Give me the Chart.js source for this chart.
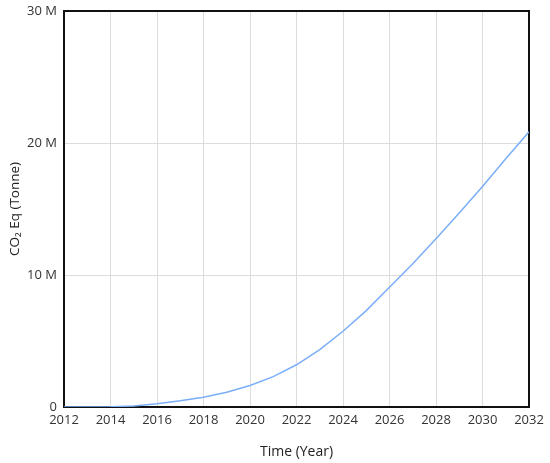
<!DOCTYPE html>
<html>
<head>
<meta charset="utf-8">
<script src="https://cdn.jsdelivr.net/npm/chart.js@4.4.0/dist/chart.umd.min.js"></script>
<style>
  html, body { margin: 0; padding: 0; background: #fff; }
  #wrap { width: 550px; height: 463px; }
</style>
</head>
<body>
<div id="wrap"><canvas id="line-chart"></canvas></div>
<script>
// years and emissions (tonnes CO2 eq)
var years = [2012, 2013, 2014, 2015, 2016, 2017, 2018, 2019, 2020, 2021, 2022,
             2023, 2024, 2025, 2026, 2027, 2028, 2029, 2030, 2031, 2032];
var co2 = [0, 0, 0.02e6, 0.08e6, 0.24e6, 0.47e6, 0.74e6, 1.12e6, 1.63e6, 2.3e6, 3.2e6,
           4.35e6, 5.74e6, 7.3e6, 9.07e6, 10.85e6, 12.75e6, 14.7e6, 16.7e6, 18.8e6, 20.85e6];
var yTicks = [0, 10e6, 20e6, 30e6];

// border round the plot area (under the line, so the zero run stays blue)
var frame = {
  id: 'frame',
  beforeDatasetsDraw: function(c) {
    var a = c.chartArea, ctx = c.ctx;
    ctx.save();
    ctx.strokeStyle = '#111';
    ctx.lineWidth = 2;
    ctx.strokeRect(a.left, a.top, a.right - a.left, a.bottom - a.top);
    ctx.restore();
  }
};

var points = [];
for (var i = 0; i < years.length; i++) {
  points.push({ x: years[i], y: co2[i] });
}

Chart.defaults.font.family = "'Open Sans', sans-serif";

var chart = new Chart(document.getElementById('line-chart'), {
  type: 'line',
  data: {
    datasets: [{
      data: points,
      borderColor: '#7aaef7',
      borderWidth: 1.5,
      pointRadius: 0,
      tension: 0,
      fill: false
    }]
  },
  options: {
    responsive: true,
    maintainAspectRatio: false,
    animation: false,
    layout: { padding: { top: 11, right: 21, left: 0, bottom: 0 } },
    plugins: { legend: { display: false }, tooltip: { enabled: false } },
    scales: {
      x: {
        type: 'linear',
        min: 2012,
        max: 2032,
        afterFit: function(s) { s.height = 56; s.paddingLeft = 0; s.paddingRight = 0; },
        grid: { color: '#dcdcdc', drawTicks: false },
        border: { display: false },
        ticks: {
          stepSize: 2,
          padding: 5,
          color: '#333',
          font: { size: 13 },
          maxRotation: 0,
          callback: function(v) { return String(v); }
        },
        title: {
          display: true,
          text: 'Time (Year)',
          color: '#222',
          font: { size: 14 },
          padding: { top: 12, bottom: 3 }
        }
      },
      y: {
        min: 0,
        max: 30e6,
        afterFit: function(s) { s.width = 64; s.paddingTop = 0; s.paddingBottom = 0; },
        afterBuildTicks: function(s) {
          s.ticks = yTicks.map(function(v) { return { value: v }; });
        },
        grid: { color: '#dcdcdc', drawTicks: false },
        border: { display: false },
        ticks: {
          padding: 7,
          color: '#333',
          font: { size: 13 },
          callback: function(v) { return v === 0 ? '0' : (v / 1e6) + ' M'; }
        },
        title: {
          display: true,
          text: 'CO\u2082 Eq (Tonne)',
          color: '#222',
          font: { size: 13.5 },
          padding: { top: 7, bottom: 0 }
        }
      }
    }
  },
  plugins: [frame]
});
</script>
</body>
</html>
